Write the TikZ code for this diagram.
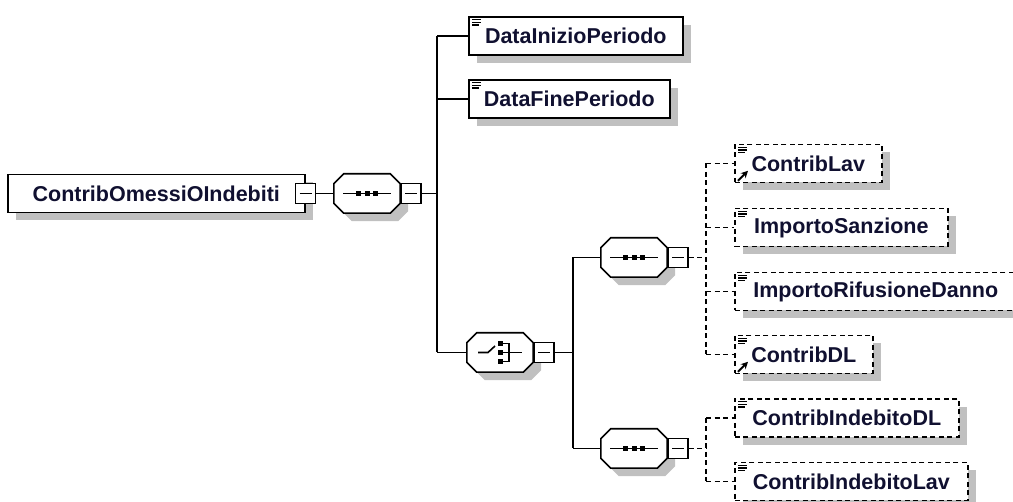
\documentclass[tikz,border=0pt]{standalone}
\usepackage{fontspec}
\setmainfont{Liberation Sans}
\usetikzlibrary{positioning,shadows,arrows.meta}
\definecolor{shadowgray}{RGB}{192,192,192}
\definecolor{nametext}{RGB}{16,16,48}
\tikzset{
  boxshadow/.style={drop shadow={shadow xshift=8pt, shadow yshift=-8pt, fill=shadowgray, opacity=1}},
  elem/.style={draw, line width=1.6pt, fill=white, anchor=west, minimum height=38pt, inner sep=0pt,
    font=\bfseries\fontsize{21.5}{24}\selectfont, text=nametext, boxshadow},
  optelem/.style={elem, dash pattern=on 5pt off 3.5pt},
  compositor/.style={minimum width=66pt, minimum height=39pt, inner sep=0pt},
  minusbox/.style={draw, line width=1.6pt, fill=white, minimum size=20pt, inner sep=0pt,
    path picture={\draw[line width=1.6pt] ([xshift=4pt]path picture bounding box.west) -- ([xshift=-4pt]path picture bounding box.east);}},
  link/.style={line width=1.6pt},
  optlink/.style={link, dash pattern=on 5pt off 3.5pt},
}
% octagon round a compositor node
\newcommand{\octagon}[1]{\draw[line width=1.6pt, fill=white, boxshadow]
  ([xshift=10pt]#1.north west) -- ([xshift=-10pt]#1.north east) -- ([yshift=-10pt]#1.north east)
  -- ([yshift=10pt]#1.south east) -- ([xshift=-10pt]#1.south east) -- ([xshift=10pt]#1.south west)
  -- ([yshift=10pt]#1.south west) -- ([yshift=-10pt]#1.north west) -- cycle;}
% small marks inside the boxes
\newcommand{\simplemark}[1]{\draw[line width=1.3pt] (#1.north west) ++(4,3.5) -- ++(9,0) ++(-9,2.7) -- ++(9,0) ++(-9,2.7) -- ++(7,0);}
\newcommand{\refmark}[1]{\draw[line width=2pt, -{Stealth[length=7pt,width=7pt]}] (#1.south west) ++(4,-2.5) -- ++(10,-10);}
\newcommand{\seqmark}[1]{%
  \draw[line width=1.6pt] (#1.center) ++(-24,0) -- ++(48,0);
  \foreach \dx in {-8.5,0,8.5} \fill (#1.center) ++({\dx-2.5},-2.5) rectangle ++(5,5);}
\newcommand{\choicemark}[1]{%
  \draw[line width=1.6pt] (#1.center) ++(-22,0) -- ++(10,0) -- ++(7,-6.5);
  \foreach \dy in {-9,0,9} \fill (#1.center) ++(-2,{\dy-2.5}) rectangle ++(5,5);
  \draw[line width=1.6pt] (#1.center) ++(3,-9) -- ++(6,0) -- ++(0,18) -- ++(-6,0);
  \draw[line width=1.6pt] (#1.center) ++(3,0) -- ++(19,0);}
\begin{document}
\begin{tikzpicture}[x=1pt,y=-1pt]
\useasboundingbox (0,0) rectangle (1013,502);
        % Root element
            \node[elem, minimum width=297pt] (root) at (7,193.5) {ContribOmessiOIndebiti};
            \node[minusbox] (rootm) at (root.east) {};
        % Compositors
            \node[compositor] (seqA) at (367,193.5) {};
            \node[compositor] (choice) at (500,352.5) {};
            \node[compositor] (seqB) at (634,257.5) {};
            \node[compositor] (seqC) at (634,448.5) {};
            \foreach \c in {seqA,choice,seqB,seqC} {\octagon{\c}}
            \seqmark{seqA} \choicemark{choice} \seqmark{seqB} \seqmark{seqC}
            \node[minusbox, right=0pt of seqA] (seqAm) {};
            \node[minusbox, right=0pt of choice] (choicem) {};
            \node[minusbox, right=0pt of seqB] (seqBm) {};
            \node[minusbox, right=0pt of seqC] (seqCm) {};
        % Junctions
            \coordinate (jA) at (437,193.5);
            \coordinate (jB) at (573,352.5);
            \coordinate (jC) at (706,257.5);
            \coordinate (jD) at (706,448.5);
        % Elements
            \node[elem, minimum width=214pt] (inizio) at (468,36) {DataInizioPeriodo};
            \node[elem, minimum width=201pt] (fine) at (468,99) {DataFinePeriodo};
            \node[optelem, minimum width=147pt] (lav) at (734,163.5) {ContribLav};
            \node[optelem, minimum width=213pt] (sanzione) at (734,227.5) {ImportoSanzione};
            \node[optelem, minimum width=282pt] (rifusione) at (734,291.5) {ImportoRifusioneDanno};
            \node[optelem, minimum width=138pt] (dl) at (734,354.5) {ContribDL};
            \node[optelem, minimum width=224pt] (indDL) at (734,418) {ContribIndebitoDL};
            \node[optelem, minimum width=233pt] (indLav) at (734,481.5) {ContribIndebitoLav};
            \foreach \e in {inizio,fine,lav,sanzione,rifusione,dl,indDL,indLav} {\simplemark{\e}}
            \refmark{lav} \refmark{dl}
        % Connectors
            \draw[link] (rootm) -- (seqA);
            \draw[link] (seqAm) -- (jA);
            \draw[link] (jA |- inizio.west) -- (jA |- choice.west);
            \foreach \e in {inizio,fine,choice} \draw[link] (jA |- \e.west) -- (\e.west);
            \draw[link] (choicem) -- (jB);
            \draw[link] (jB |- seqB.west) -- (jB |- seqC.west);
            \foreach \e in {seqB,seqC} \draw[link] (jB |- \e.west) -- (\e.west);
            \draw[optlink] (seqBm) -- (jC);
            \draw[optlink] (jC |- lav.west) -- (jC |- dl.west);
            \foreach \e in {lav,sanzione,rifusione,dl} \draw[optlink] (jC |- \e.west) -- (\e.west);
            \draw[optlink] (seqCm) -- (jD);
            \draw[optlink] (jD |- indDL.west) -- (jD |- indLav.west);
            \foreach \e in {indDL,indLav} \draw[optlink] (jD |- \e.west) -- (\e.west);
\end{tikzpicture}
\end{document}
